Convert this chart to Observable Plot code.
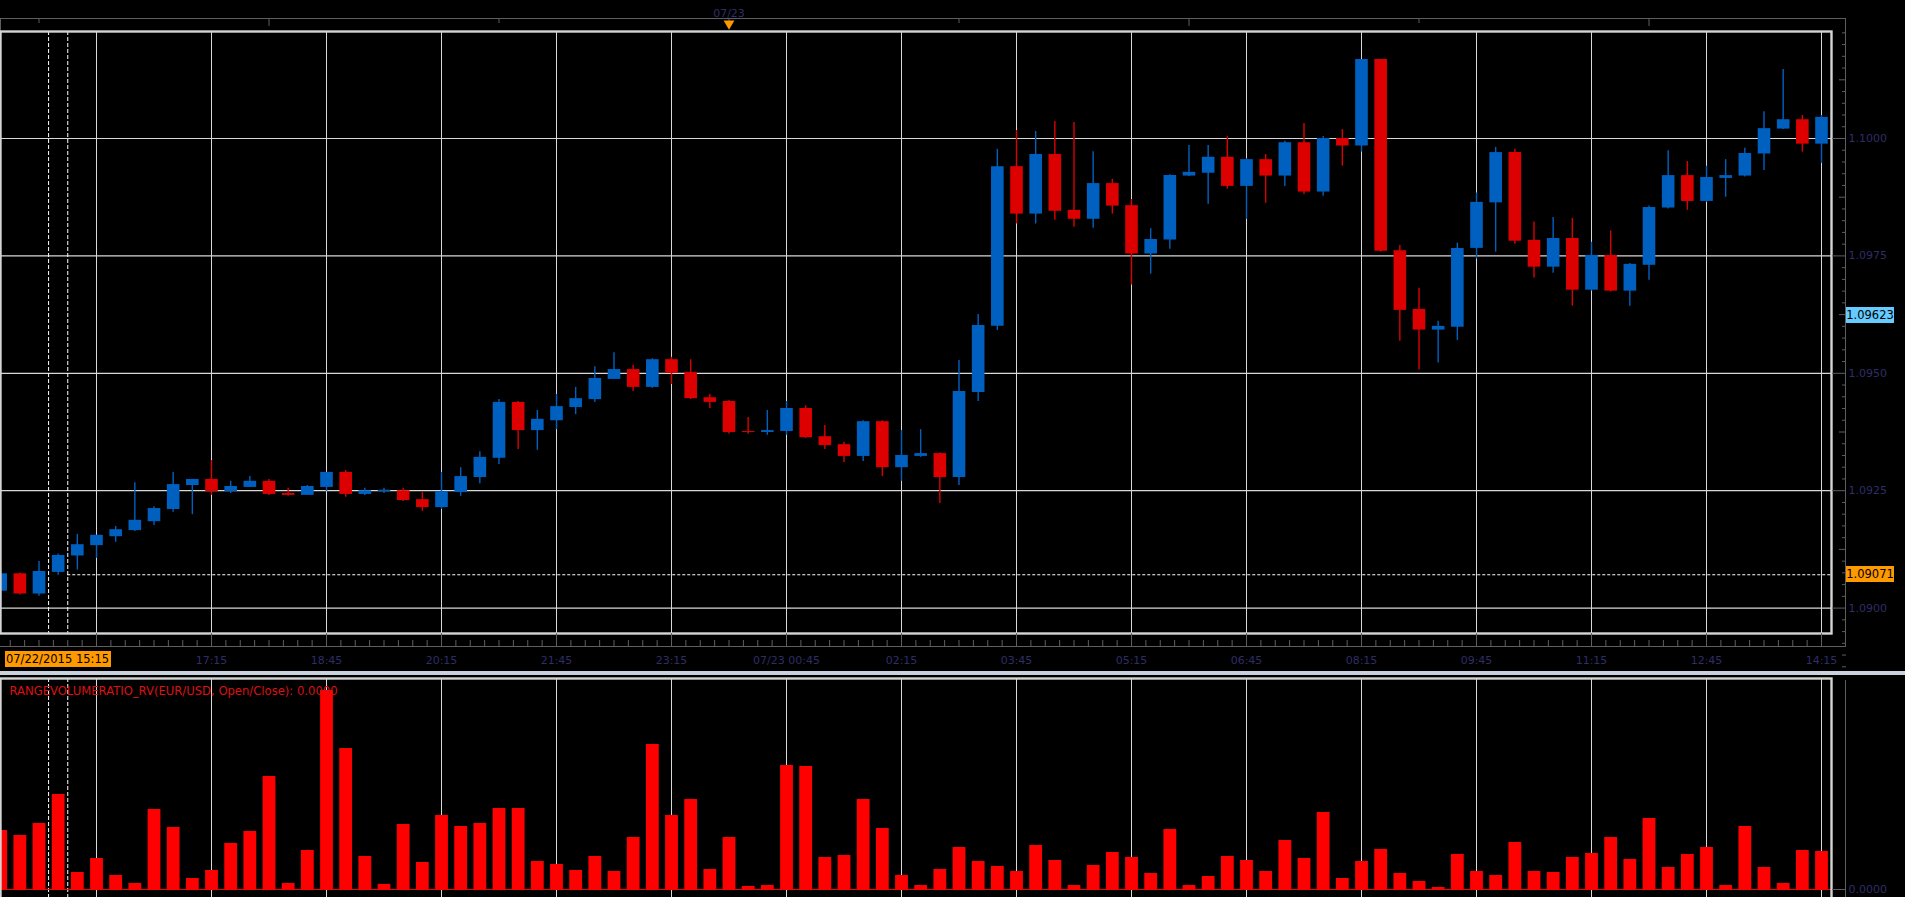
<!DOCTYPE html>
<html><head><meta charset="utf-8">
<script src="https://cdn.jsdelivr.net/npm/d3@7"></script>
<script src="https://cdn.jsdelivr.net/npm/@observablehq/plot@0.6"></script>
<style>
html,body{margin:0;padding:0;background:#000;overflow:hidden;}
#root{position:relative;width:1905px;height:897px;overflow:hidden;background:#000;font-family:"DejaVu Sans",sans-serif;}
.chrome{position:absolute;}
.hl{position:absolute;font:11.5px "DejaVu Sans",sans-serif;color:#000;line-height:16px;height:16px;white-space:nowrap;text-align:center;}
svg{position:absolute;left:0;}
</style></head><body><div id="root"></div>
<script>
// ---------------- data ----------------
const startTime = "2015-07-22T14:30:00Z";   // first (partly hidden) 15-minute bar
const barMinutes = 15;
const open = [1.09036,1.09073,1.09030,1.09076,1.09111,1.09133,1.09152,1.09165,1.09184,1.09210,
1.09261,1.09274,1.09248,1.09257,1.09270,1.09244,1.09240,1.09257,1.09289,1.09242,
1.09248,1.09250,1.09231,1.09214,1.09246,1.09278,1.09319,1.09438,1.09378,1.09399,
1.09427,1.09444,1.09487,1.09508,1.09470,1.09529,1.09502,1.09448,1.09440,1.09376,
1.09374,1.09376,1.09425,1.09365,1.09348,1.09323,1.09397,1.09299,1.09323,1.09329,
1.09278,1.09459,1.09600,1.09940,1.09839,1.09966,1.09847,1.09828,1.09904,1.09857,
1.09754,1.09784,1.09920,1.09926,1.09960,1.09898,1.09955,1.09920,1.09991,1.09886,
1.10000,1.09984,1.10168,1.09761,1.09636,1.09592,1.09598,1.09766,1.09863,1.09970,
1.09783,1.09726,1.09787,1.09677,1.09751,1.09675,1.09730,1.09852,1.09921,1.09866,
1.09915,1.09920,1.09967,1.10020,1.10040,1.09988];
const high = [1.09075,1.09075,1.09099,1.09115,1.09157,1.09155,1.09174,1.09267,1.09216,1.09289,
1.09274,1.09314,1.09270,1.09280,1.09274,1.09255,1.09261,1.09289,1.09293,1.09255,
1.09255,1.09255,1.09246,1.09289,1.09299,1.09333,1.09444,1.09440,1.09421,1.09455,
1.09470,1.09514,1.09544,1.09517,1.09531,1.09534,1.09529,1.09455,1.09442,1.09406,
1.09421,1.09440,1.09431,1.09389,1.09353,1.09399,1.09399,1.09378,1.09380,1.09331,
1.09527,1.09625,1.09977,1.10017,1.10015,1.10036,1.10034,1.09972,1.09913,1.09870,
1.09808,1.09923,1.09985,1.09985,1.10004,1.09957,1.09966,1.09994,1.10032,1.10004,
1.10019,1.10168,1.10168,1.09772,1.09681,1.09611,1.09777,1.09884,1.09981,1.09977,
1.09822,1.09832,1.09830,1.09779,1.09803,1.09734,1.09856,1.09974,1.09951,1.09941,
1.09955,1.09979,1.10057,1.10147,1.10049,1.10049];
const low = [1.09003,1.09028,1.09025,1.09070,1.09081,1.09106,1.09140,1.09163,1.09176,1.09204,
1.09199,1.09240,1.09244,1.09257,1.09240,1.09238,1.09240,1.09248,1.09236,1.09240,
1.09244,1.09227,1.09206,1.09210,1.09238,1.09265,1.09306,1.09338,1.09336,1.09380,
1.09412,1.09438,1.09487,1.09461,1.09468,1.09476,1.09444,1.09425,1.09370,1.09370,
1.09368,1.09368,1.09361,1.09338,1.09310,1.09312,1.09280,1.09270,1.09321,1.09223,
1.09261,1.09440,1.09591,1.09818,1.09818,1.09826,1.09811,1.09809,1.09839,1.09688,
1.09711,1.09764,1.09919,1.09860,1.09892,1.09828,1.09862,1.09898,1.09881,1.09877,
1.09941,1.09971,1.09758,1.09568,1.09507,1.09522,1.09570,1.09743,1.09758,1.09775,
1.09703,1.09713,1.09643,1.09675,1.09673,1.09643,1.09698,1.09850,1.09847,1.09864,
1.09875,1.09918,1.09932,1.10019,1.09971,1.09947];
const close = [1.09073,1.09030,1.09078,1.09112,1.09135,1.09155,1.09167,1.09187,1.09212,1.09263,
1.09274,1.09248,1.09259,1.09270,1.09242,1.09240,1.09259,1.09289,1.09242,1.09250,
1.09251,1.09229,1.09214,1.09248,1.09280,1.09321,1.09438,1.09378,1.09402,1.09429,
1.09446,1.09489,1.09508,1.09470,1.09529,1.09500,1.09446,1.09438,1.09374,1.09374,
1.09378,1.09425,1.09363,1.09346,1.09323,1.09397,1.09299,1.09325,1.09329,1.09278,
1.09461,1.09602,1.09940,1.09839,1.09966,1.09845,1.09828,1.09904,1.09856,1.09754,
1.09785,1.09921,1.09928,1.09960,1.09898,1.09955,1.09920,1.09991,1.09886,1.10000,
1.09984,1.10168,1.09760,1.09634,1.09592,1.09600,1.09766,1.09864,1.09970,1.09781,
1.09726,1.09787,1.09677,1.09751,1.09675,1.09732,1.09853,1.09921,1.09866,1.09917,
1.09921,1.09968,1.10021,1.10040,1.09988,1.10045];
const rangeVolumeRatio = [0.59,0.54,0.66,0.95,0.17,0.31,0.14,0.06,0.80,0.62,
0.11,0.19,0.46,0.58,1.13,0.06,0.39,1.99,1.41,0.33,
0.05,0.65,0.27,0.74,0.63,0.66,0.81,0.81,0.28,0.25,
0.19,0.33,0.18,0.52,1.45,0.74,0.90,0.20,0.52,0.03,
0.04,1.24,1.23,0.32,0.34,0.90,0.61,0.14,0.04,0.20,
0.42,0.28,0.23,0.18,0.44,0.29,0.04,0.24,0.37,0.32,
0.16,0.60,0.04,0.13,0.33,0.29,0.18,0.49,0.31,0.77,
0.11,0.28,0.40,0.16,0.08,0.02,0.35,0.18,0.14,0.47,
0.18,0.17,0.32,0.36,0.52,0.30,0.71,0.22,0.35,0.42,
0.04,0.63,0.22,0.06,0.39,0.38];

const priceTicks = [1.0900, 1.0925, 1.0950, 1.0975, 1.1000];
const priceMinorTicks = [1.08875,1.08900,1.08925,1.08950,1.08975,1.09025,1.09050,1.09075,1.09100,1.09150,1.09175,1.09200,1.09225,1.09275,1.09300,1.09325,1.09350,1.09400,1.09425,1.09450,1.09475,1.09525,1.09550,1.09575,1.09600,1.09650,1.09675,1.09700,1.09725,1.09775,1.09800,1.09825,1.09850,1.09900,1.09925,1.09950,1.09975,1.10025,1.10050,1.10075,1.10100,1.10150,1.10175,1.10200,1.10225];
const priceMidTicks = [1.09125,1.09375,1.09625,1.09875,1.10125];
const timeTickTimes = ["2015-07-22T15:45:00Z","2015-07-22T17:15:00Z","2015-07-22T18:45:00Z","2015-07-22T20:15:00Z",
"2015-07-22T21:45:00Z","2015-07-22T23:15:00Z","2015-07-23T00:45:00Z","2015-07-23T02:15:00Z","2015-07-23T03:45:00Z",
"2015-07-23T05:15:00Z","2015-07-23T06:45:00Z","2015-07-23T08:15:00Z","2015-07-23T09:45:00Z","2015-07-23T11:15:00Z",
"2015-07-23T12:45:00Z","2015-07-23T14:15:00Z"];
const timeTickLabels = ["15:45","17:15","18:45","20:15","21:45","23:15","07/23 00:45","02:15","03:45","05:15","06:45","08:15","09:45","11:15","12:45","14:15"];
const overviewTickTimes = ["2015-07-22T15:00:00Z","2015-07-22T21:00:00Z","2015-07-23T03:00:00Z","2015-07-23T09:00:00Z"];
const overviewLongTickTimes = ["2015-07-22T18:00:00Z","2015-07-23T00:00:00Z","2015-07-23T06:00:00Z","2015-07-23T12:00:00Z"];
const dayMarkerTime = "2015-07-23T00:00:00Z";
const dayMarkerLabel = "07/23";
const crosshairTime = "2015-07-22T15:15:00Z";
const crosshairTimeLabel = "07/22/2015 15:15";
const crosshairPrice = 1.09071;
const lastPrice = 1.09623;
const rvTitle = "RANGEVOLUMERATIO_RV(EUR/USD, Open/Close): 0.0000";
const rvTicks = [0];

// ---------------- layout ----------------
const W = 1905;
const FRAME_RIGHT = 1831;
const BAR_PX = 115 / 6;          // pixels per 15-minute bar
const FIRST_BAR_PX = 0.17;       // pixel centre of first bar
const PX_PER_PRICE = 117.4 / 0.0025;
const Y_1100 = 138;              // pixel row of 1.1000
const MIN = 60000;
const t0 = Date.parse(startTime);
const xDomain = [new Date(t0 - FIRST_BAR_PX / BAR_PX * barMinutes * MIN),
                 new Date(t0 + (FRAME_RIGHT - FIRST_BAR_PX) / BAR_PX * barMinutes * MIN)];
const P_TOP = 31, P_BOTTOM = 633, P_H = 670;
const yDomain = [1.1 - (P_BOTTOM - Y_1100) / PX_PER_PRICE, 1.1 + (Y_1100 - P_TOP) / PX_PER_PRICE];

const bars = open.map((o, i) => ({
  t: new Date(t0 + i * barMinutes * MIN), open: o, high: high[i], low: low[i], close: close[i], rv: rangeVolumeRatio[i]
}));
const up = d => d.close >= d.open;
const BLUE = "#0060c0", RED = "#dc0000", VOL = "#ff0000";
const LABEL = "#2e2e66", AXIS = "#5e5e5e", GRID = "#d8d8d8", FRAME = "#d4d4d4";

const gridDates = timeTickTimes.map(d => new Date(d));
const labelMap = new Map(gridDates.map((d, i) => [+d, timeTickLabels[i]]));
const labelDates = gridDates.slice(1);
const minorDates = [];
for (let k = -7; k < gridDates.length * 8; k++) {
  if (k % 8 === 0) continue;
  const d = new Date(+gridDates[0] + k * 11.25 * MIN);
  if (d >= xDomain[0] && d <= xDomain[1]) minorDates.push(d);
}
const ch = Date.parse(crosshairTime);
const chLines = [new Date(ch - 7.5 * MIN), new Date(ch + 7.5 * MIN)];
const dayMarker = [new Date(dayMarkerTime)];
const overviewTicks = overviewTickTimes.map(d => new Date(d));
const overviewLongTicks = overviewLongTickTimes.map(d => new Date(d));

const style = {background: "transparent", color: LABEL, fontFamily: "DejaVu Sans, sans-serif", fontSize: "11px", overflow: "visible"};

const priceChart = Plot.plot({
  width: W, height: P_H,
  marginLeft: 0, marginRight: W - FRAME_RIGHT, marginTop: P_TOP, marginBottom: P_H - P_BOTTOM,
  style,
  x: {type: "utc", domain: xDomain, axis: null},
  y: {domain: yDomain, axis: null},
  marks: [
    Plot.gridY(priceTicks, {stroke: GRID, strokeOpacity: 1, strokeWidth: 1.2}),
    Plot.gridX(gridDates, {stroke: GRID, strokeOpacity: 1, strokeWidth: 1}),
    Plot.ruleY([crosshairPrice], {x1: () => chLines[1], x2: () => xDomain[1], stroke: "#ffffff", strokeDasharray: "3,2"}),
    Plot.ruleX(chLines, {stroke: "#ffffff", strokeDasharray: "4,2"}),
    Plot.ruleX(bars, {filter: up, x: "t", y1: "low", y2: "high", stroke: BLUE, strokeWidth: 1.4}),
    Plot.ruleX(bars, {filter: d => !up(d), x: "t", y1: "low", y2: "high", stroke: RED, strokeWidth: 1.4}),
    Plot.ruleX(bars, {filter: up, x: "t", y1: "open", y2: "close", stroke: BLUE, strokeWidth: 12.6}),
    Plot.ruleX(bars, {filter: d => !up(d), x: "t", y1: "open", y2: "close", stroke: RED, strokeWidth: 12.6}),
    Plot.frame({stroke: FRAME, strokeWidth: 2.4}),
    Plot.axisY(priceTicks, {anchor: "right", label: null, tickSize: 14, tickPadding: 3, tickFormat: d3.format(".4f"), stroke: AXIS, fill: LABEL, fontSize: 11}),
    Plot.axisY(priceMinorTicks, {anchor: "right", label: null, tickSize: 4, dx: 10, tickFormat: () => "", stroke: AXIS}),
    Plot.axisY(priceMidTicks, {anchor: "right", label: null, tickSize: 7, dx: 7, tickFormat: () => "", stroke: AXIS}),
    Plot.axisX(gridDates, {anchor: "bottom", label: null, tickSize: 13, tickFormat: () => "", stroke: AXIS}),
    Plot.axisX(minorDates, {anchor: "bottom", label: null, tickSize: 6, dy: 7, tickFormat: () => "", stroke: AXIS}),
    Plot.axisX(labelDates, {anchor: "bottom", label: null, tickSize: 0, tickPadding: 23, tickFormat: d => labelMap.get(+d), fill: LABEL, fontSize: 11}),
    Plot.axisX(overviewTicks, {anchor: "top", label: null, tickSize: 4, dy: -9, tickFormat: () => "", stroke: AXIS}),
    Plot.axisX(overviewLongTicks, {anchor: "top", label: null, tickSize: 7, dy: -6, tickFormat: () => "", stroke: AXIS}),
    Plot.text(dayMarker, {x: d => d, text: () => dayMarkerLabel, frameAnchor: "top", dy: -22.5, fill: LABEL, fontSize: 11}),
    Plot.dot(dayMarker, {x: d => d, frameAnchor: "top", dy: -8, symbol: "triangle", rotate: 180, r: 4, fill: "#ff9900", stroke: null})
  ]
});

// lower panel
const L_TOP = 675, L_H = 245, L_FRAME_TOP = 3, L_FRAME_BOTTOM = 230, L_BASE = 214, L_PX = 100;
const rvDomain = [-(L_FRAME_BOTTOM - L_BASE) / L_PX, (L_BASE - L_FRAME_TOP) / L_PX];
const rvChart = Plot.plot({
  width: W, height: L_H,
  marginLeft: 0, marginRight: W - FRAME_RIGHT, marginTop: L_FRAME_TOP, marginBottom: L_H - L_FRAME_BOTTOM,
  style,
  x: {type: "utc", domain: xDomain, axis: null},
  y: {domain: rvDomain, axis: null},
  marks: [
    Plot.gridX(gridDates, {stroke: GRID, strokeOpacity: 1, strokeWidth: 1}),
    Plot.ruleX(chLines, {stroke: "#ffffff", strokeDasharray: "4,2"}),
    Plot.ruleX(bars, {x: "t", y1: 0, y2: "rv", stroke: VOL, strokeWidth: 12.8}),
    Plot.ruleY([0], {stroke: VOL, strokeWidth: 1.2}),
    Plot.frame({stroke: FRAME, strokeWidth: 2.4}),
    Plot.axisY(rvTicks, {anchor: "right", label: null, tickSize: 14, tickPadding: 3, tickFormat: d3.format(".4f"), stroke: AXIS, fill: LABEL, fontSize: 11}),
    Plot.text([rvTitle], {text: d => d, frameAnchor: "top-left", dx: 9, dy: 8.7, textAnchor: "start", fill: "#dd1010", fontSize: 11.6})
  ]
});

const root = document.getElementById("root");
function chrome(left, top, width, height, color) {
  const d = document.createElement("div");
  d.className = "chrome";
  Object.assign(d.style, {left: left + "px", top: top + "px", width: width + "px", height: height + "px", background: color});
  root.appendChild(d);
}
// top strip and axis lines
chrome(0, 18, 1846, 1, AXIS);
chrome(0, 18, 1, 13, AXIS);
chrome(1845, 18, 1, 629, AXIS);
chrome(0, 646, 1846, 1, AXIS);
chrome(0, 671, W, 4, "#c9d2dc");
chrome(1845, 680, 1, 220, AXIS);

priceChart.style.top = "0px";
rvChart.style.top = L_TOP + "px";
root.appendChild(priceChart);
root.appendChild(rvChart);

// highlighted value boxes, placed through the chart scales
const ys = priceChart.scale("y");
function box(text, left, top, width, bg) {
  const d = document.createElement("div");
  d.className = "hl";
  d.textContent = text;
  Object.assign(d.style, {left: left + "px", top: top + "px", width: width + "px", background: bg});
  root.appendChild(d);
}
box(d3.format(".5f")(lastPrice), 1846, ys.apply(lastPrice) - 8, 48, "#66ccff");
box(d3.format(".5f")(crosshairPrice), 1846, ys.apply(crosshairPrice) - 8, 48, "#ff9900");
box(crosshairTimeLabel, 4.5, 651, 106, "#ff9900");
</script></body></html>
